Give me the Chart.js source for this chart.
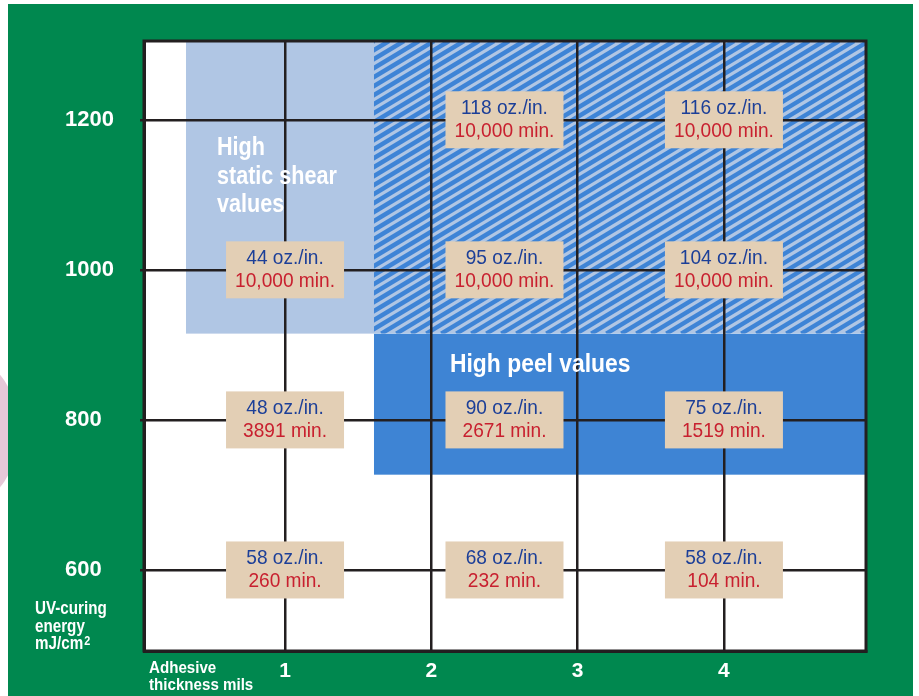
<!DOCTYPE html>
<html>
<head>
<meta charset="utf-8">
<script src="https://cdn.jsdelivr.net/npm/chart.js@4"></script>
<style>
  html, body { margin: 0; padding: 0; background: #fff; width: 919px; height: 696px; overflow: hidden; }
  #blob { position: absolute; left: -74px; top: 360px; width: 92px; height: 142px; border-radius: 50%; background: #e6c8d8; }
  #panel { position: absolute; left: 8px; top: 4px; width: 905px; height: 692px; background: #00884f; }
  #chart { position: absolute; left: 0; top: 0; }
</style>
</head>
<body>
<div id="blob"></div>
<div id="panel"></div>
<canvas id="chart" width="919" height="696"></canvas>
<script>
// axis ticks
const thicknessTicks = [1, 2, 3, 4];
const energyTicks = [600, 800, 1000, 1200];

// measured points (thickness in mils, energy in mJ/cm2)
const pointThickness = [2.5, 4, 1, 2.5, 4, 1, 2.5, 4, 1, 2.5, 4];
const pointEnergy = [1200, 1200, 1000, 1000, 1000, 800, 800, 800, 600, 600, 600];
const peelValues = [118, 116, 44, 95, 104, 48, 90, 75, 58, 68, 58];
const shearMinutes = [10000, 10000, 10000, 10000, 10000, 3891, 2671, 1519, 260, 232, 104];

// shaded zones: [thickness from, thickness to, energy from, energy to]
const shearZone = [0.323, 1.608, 915, 1305];
const overlapZone = [1.608, 4.971, 915, 1305];
const peelZone = [1.608, 4.971, 727, 915];

const FONT = '"Liberation Sans", Arial, sans-serif';
const GRID = '#231f20';

function zoneRect(chart, z) {
    const x = chart.scales.x, y = chart.scales.y;
    const l = x.getPixelForValue(z[0]), r = x.getPixelForValue(z[1]);
    const t = y.getPixelForValue(z[3]), b = y.getPixelForValue(z[2]);
    return [l, t, r - l, b - t];
}

// draw text squeezed horizontally (the original uses a condensed face)
function narrowText(ctx, text, x, y, sx, align) {
    ctx.save();
    ctx.translate(x, y);
    ctx.scale(sx, 1);
    ctx.textAlign = align;
    ctx.fillText(text, 0, 0);
    const w = ctx.measureText(text).width;
    ctx.restore();
    return w * sx;
}

function formatMinutes(v) {
    return (v >= 10000 ? v.toLocaleString('en-US') : String(v)) + ' min.';
}

const zonePlugin = {
    id: 'zones',
    beforeDraw(chart) {
        const ctx = chart.ctx, a = chart.chartArea;
        ctx.save();
        ctx.fillStyle = '#fff';
        ctx.fillRect(a.left, a.top, a.right - a.left, a.bottom - a.top);

        // light blue shear zone
        ctx.fillStyle = '#b0c6e4';
        ctx.fillRect(...zoneRect(chart, shearZone));

        // solid blue peel zone
        ctx.fillStyle = '#3e84d4';
        ctx.fillRect(...zoneRect(chart, peelZone));

        // hatched overlap zone
        const [l, t, w, h] = zoneRect(chart, overlapZone);
        ctx.beginPath();
        ctx.rect(l, t, w, h);
        ctx.clip();
        ctx.fillStyle = '#b0c6e4';
        ctx.fillRect(l, t, w, h);
        ctx.strokeStyle = '#3e84d6';
        ctx.lineWidth = 4.4;
        const slope = 0.6, step = 15;
        for (let k = -h / slope; k < w + step; k += step) {
            ctx.beginPath();
            ctx.moveTo(l + k, t + h);
            ctx.lineTo(l + k + h / slope, t);
            ctx.stroke();
        }
        ctx.restore();
    }
};

const labelPlugin = {
    id: 'labels',
    afterDatasetsDraw(chart) {
        const ctx = chart.ctx, a = chart.chartArea;
        const x = chart.scales.x, y = chart.scales.y;
        ctx.save();

        // frame
        ctx.strokeStyle = GRID;
        ctx.lineWidth = 3;
        ctx.strokeRect(a.left, a.top, a.right - a.left, a.bottom - a.top);

        // zone captions
        ctx.fillStyle = '#fff';
        ctx.font = 'bold 26px ' + FONT;
        ctx.textBaseline = 'alphabetic';
        const sx = x.getPixelForValue(shearZone[0]) + 31;
        ['High', 'static shear', 'values'].forEach((s, i) => narrowText(ctx, s, sx, 155 + i * 28.5, 0.83, 'left'));
        narrowText(ctx, 'High peel values', x.getPixelForValue(peelZone[0]) + 76, 372, 0.88, 'left');

        // value boxes
        pointThickness.forEach((t, i) => {
            const px = x.getPixelForValue(t), py = y.getPixelForValue(pointEnergy[i]);
            ctx.fillStyle = '#e3cfb5';
            ctx.fillRect(px - 59, py - 28.5, 118, 57);
            ctx.font = '21px ' + FONT;
            ctx.fillStyle = '#1c3f98';
            narrowText(ctx, peelValues[i] + ' oz./in.', px, py - 6, 0.91, 'center');
            ctx.fillStyle = '#c8202f';
            narrowText(ctx, formatMinutes(shearMinutes[i]), px, py + 17, 0.91, 'center');
        });

        // axis captions
        ctx.fillStyle = '#fff';
        ctx.font = 'bold 19px ' + FONT;
        ['UV-curing', 'energy'].forEach((s, i) => narrowText(ctx, s, 35, 614 + i * 17.5, 0.8, 'left'));
        const unitW = narrowText(ctx, 'mJ/cm', 35, 649, 0.8, 'left');
        ctx.font = 'bold 12px ' + FONT;
        narrowText(ctx, '2', 36 + unitW, 645, 0.9, 'left');
        ctx.font = 'bold 17px ' + FONT;
        ['Adhesive', 'thickness mils'].forEach((s, i) => narrowText(ctx, s, 149, 673 + i * 17, 0.89, 'left'));
        ctx.restore();
    }
};

const ctx = document.getElementById('chart').getContext('2d');
new Chart(ctx, {
    type: 'scatter',
    data: {
        datasets: [{
            data: pointThickness.map((t, i) => ({ x: t, y: pointEnergy[i] })),
            pointRadius: 0
        }]
    },
    options: {
        responsive: false,
        animation: false,
        layout: { padding: { left: 65, top: 41, right: 53, bottom: 0 } },
        plugins: { legend: { display: false }, tooltip: { enabled: false } },
        scales: {
            x: {
                type: 'linear',
                min: 0.036,
                max: 4.971,
                afterBuildTicks: s => { s.ticks = thicknessTicks.map(v => ({ value: v })); },
                afterFit: s => { s.height = 45; },
                grid: { color: GRID, lineWidth: 2.5, drawTicks: false },
                border: { color: GRID, width: 3 },
                ticks: { color: '#fff', font: { family: FONT, size: 21, weight: 'bold' }, padding: 8, maxRotation: 0, autoSkip: false, callback: v => String(v) }
            },
            y: {
                type: 'linear',
                min: 492,
                max: 1305,
                afterBuildTicks: s => { s.ticks = energyTicks.map(v => ({ value: v })); },
                afterFit: s => { s.width = 79; },
                grid: { color: GRID, lineWidth: 2.5, tickLength: 4 },
                border: { color: GRID, width: 3 },
                ticks: { color: '#fff', font: { family: FONT, size: 22, weight: 'bold' }, crossAlign: 'far', autoSkip: false, callback: v => String(v) }
            }
        }
    },
    plugins: [zonePlugin, labelPlugin]
});
</script>
</body>
</html>
